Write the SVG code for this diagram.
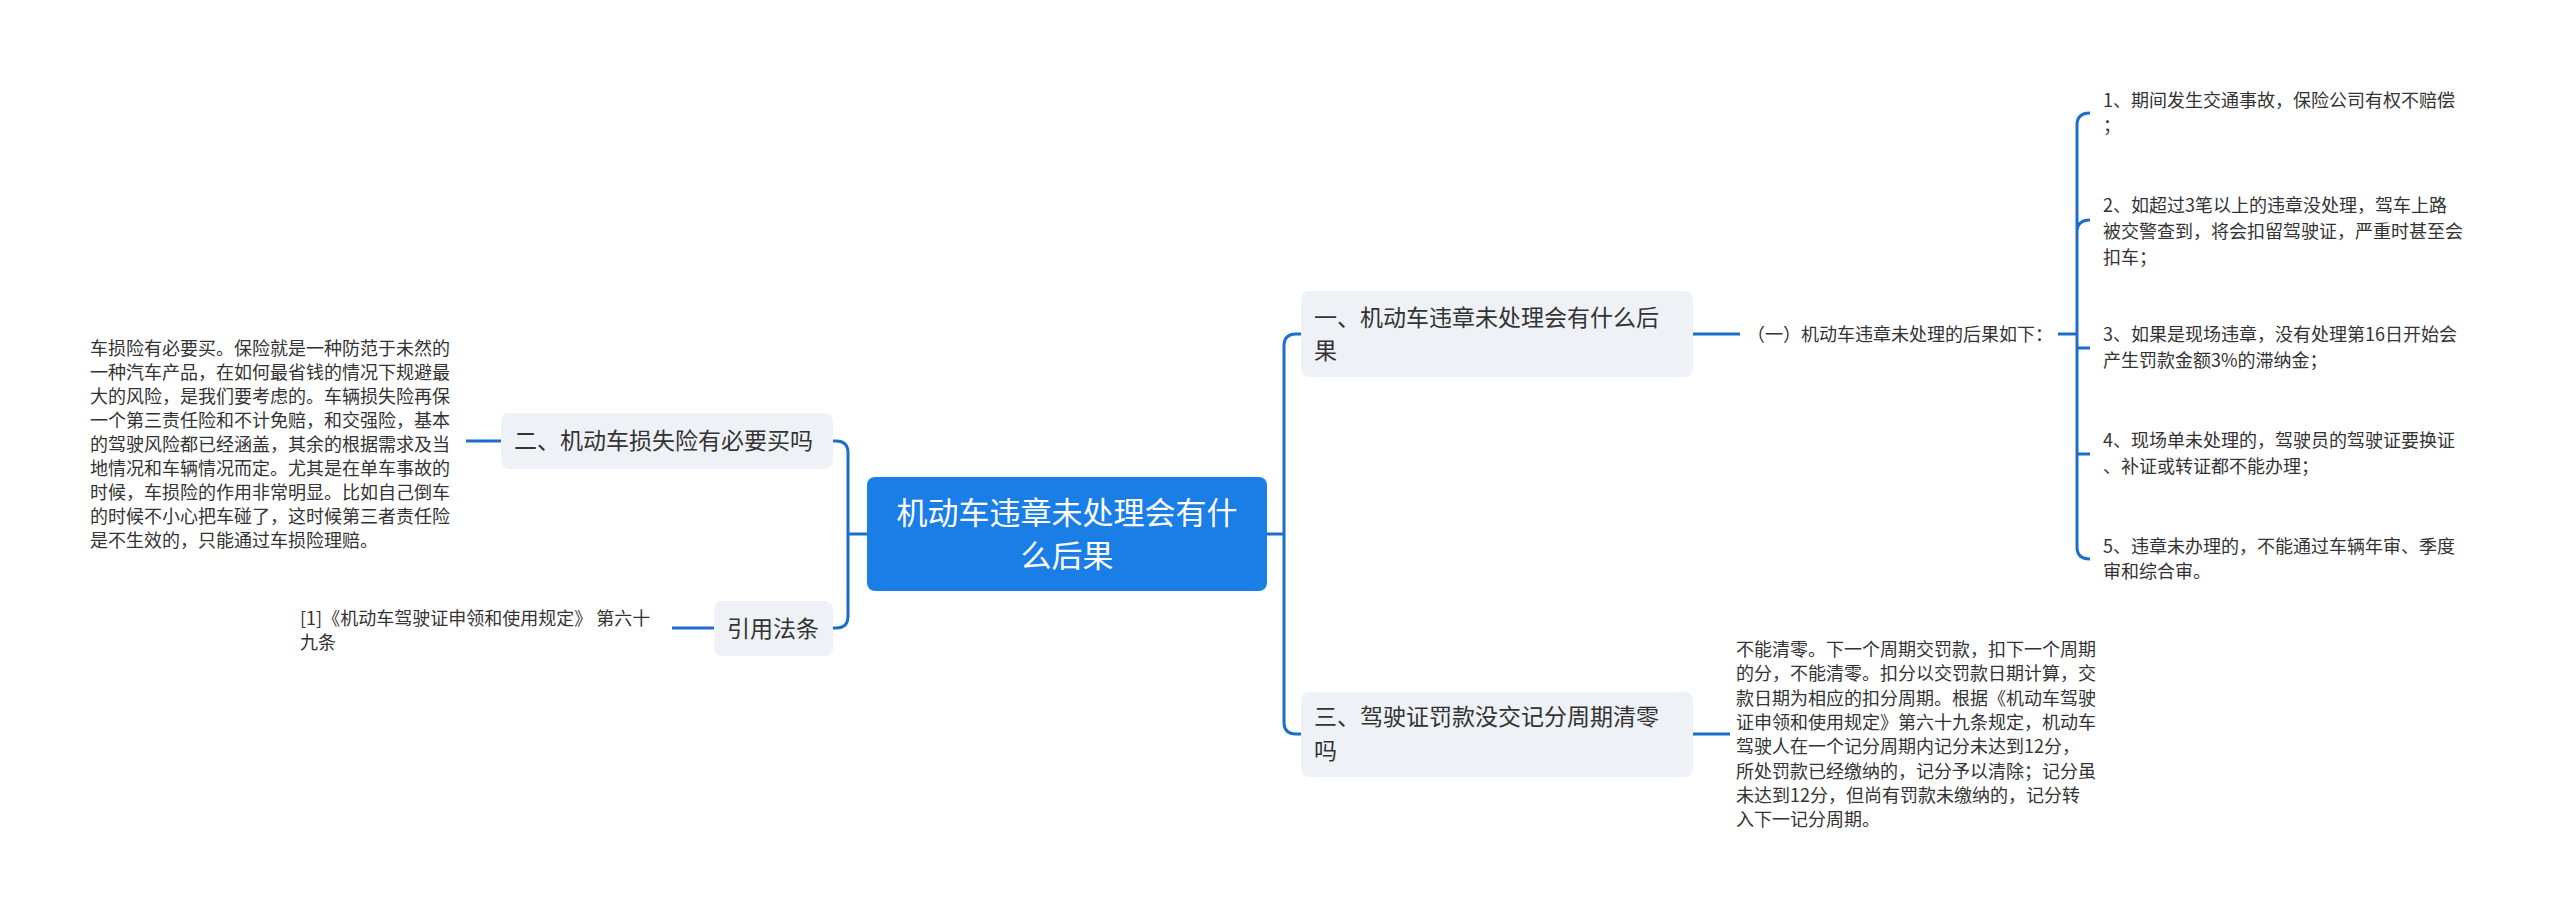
<svg xmlns="http://www.w3.org/2000/svg" width="2560" height="917" viewBox="0 0 2560 917">
<style>
text{font-family:"Noto Sans CJK SC","Liberation Sans",sans-serif;fill:#333}
.t{font-size:18px}
.n{font-size:23px}
.box{fill:#eef1f5}
.c{fill:none;stroke:#1c6fc9;stroke-width:3}
</style>
<rect width="2560" height="917" fill="#fff"/>
<g id="connectors">
<path class="c" d="M1267 534 H1284 M1301 334 H1296 Q1284 334 1284 346 V722 Q1284 734 1296 734 H1301"/>
<path class="c" d="M867 534 H848 M833 441 H836 Q848 441 848 453 V616 Q848 628 836 628 H833"/>
<path class="c" d="M501 441 H466 M714 628 H672"/>
<path class="c" d="M1693 334 H1740 M1693 734 H1730"/>
<path class="c" d="M2058 334 H2077 M2090 113 Q2077 113 2077 125 V547 Q2077 559 2090 559 M2077 232 Q2077 220 2090 220 M2077 232 Q2077 220 2077 232 M2077 348 Q2077 348 2090 348 M2077 454 Q2077 454 2090 454"/>
</g>
<g id="root">
<rect x="867" y="477" width="400" height="114" rx="8" fill="#1a7ee6"/>
<text x="1067" y="524" text-anchor="middle" style="font-size:31px;fill:#fff">机动车违章未处理会有什</text>
<text x="1067" y="567" text-anchor="middle" style="font-size:31px;fill:#fff">么后果</text>
</g>
<g id="n1">
<rect class="box" x="1301" y="291" width="392" height="86" rx="8"/>
<text class="n" x="1314" y="326">一、机动车违章未处理会有什么后</text>
<text class="n" x="1314" y="359">果</text>
</g>
<g id="n1a"><text class="t" x="1747" y="341">（一）机动车违章未处理的后果如下：</text></g>
<g id="items" class="t">
<text class="t" x="2103" y="107">1、期间发生交通事故，保险公司有权不赔偿</text>
<text class="t" x="2103" y="132">；</text>
<text class="t" x="2103" y="212">2、如超过3笔以上的违章没处理，驾车上路</text>
<text class="t" x="2103" y="238">被交警查到，将会扣留驾驶证，严重时甚至会</text>
<text class="t" x="2103" y="264">扣车；</text>
<text class="t" x="2103" y="341">3、如果是现场违章，没有处理第16日开始会</text>
<text class="t" x="2103" y="367">产生罚款金额3%的滞纳金；</text>
<text class="t" x="2103" y="447">4、现场单未处理的，驾驶员的驾驶证要换证</text>
<text class="t" x="2103" y="473">、补证或转证都不能办理；</text>
<text class="t" x="2103" y="553">5、违章未办理的，不能通过车辆年审、季度</text>
<text class="t" x="2103" y="578">审和综合审。</text>
</g>
<g id="n3">
<rect class="box" x="1301" y="692" width="392" height="85" rx="8"/>
<text class="n" x="1314" y="725">三、驾驶证罚款没交记分周期清零</text>
<text class="n" x="1314" y="759">吗</text>
</g>
<g id="n3a">
<text class="t" x="1736" y="656">不能清零。下一个周期交罚款，扣下一个周期</text>
<text class="t" x="1736" y="680">的分，不能清零。扣分以交罚款日期计算，交</text>
<text class="t" x="1736" y="705">款日期为相应的扣分周期。根据《机动车驾驶</text>
<text class="t" x="1736" y="729">证申领和使用规定》第六十九条规定，机动车</text>
<text class="t" x="1736" y="753">驾驶人在一个记分周期内记分未达到12分，</text>
<text class="t" x="1736" y="778">所处罚款已经缴纳的，记分予以清除；记分虽</text>
<text class="t" x="1736" y="802">未达到12分，但尚有罚款未缴纳的，记分转</text>
<text class="t" x="1736" y="826">入下一记分周期。</text>
</g>
<g id="n2">
<rect class="box" x="501" y="413" width="332" height="56" rx="8"/>
<text class="n" x="514" y="449">二、机动车损失险有必要买吗</text>
</g>
<g id="n2a">
<text class="t" x="90" y="355">车损险有必要买。保险就是一种防范于未然的</text>
<text class="t" x="90" y="379">一种汽车产品，在如何最省钱的情况下规避最</text>
<text class="t" x="90" y="403">大的风险，是我们要考虑的。车辆损失险再保</text>
<text class="t" x="90" y="427">一个第三责任险和不计免赔，和交强险，基本</text>
<text class="t" x="90" y="451">的驾驶风险都已经涵盖，其余的根据需求及当</text>
<text class="t" x="90" y="475">地情况和车辆情况而定。尤其是在单车事故的</text>
<text class="t" x="90" y="499">时候，车损险的作用非常明显。比如自己倒车</text>
<text class="t" x="90" y="523">的时候不小心把车碰了，这时候第三者责任险</text>
<text class="t" x="90" y="547">是不生效的，只能通过车损险理赔。</text>
</g>
<g id="cite">
<rect class="box" x="714" y="601" width="119" height="55" rx="8"/>
<text class="n" x="727" y="637">引用法条</text>
</g>
<g id="cite-a">
<text class="t" x="300" y="625">[1]《机动车驾驶证申领和使用规定》 第六十</text>
<text class="t" x="300" y="649">九条</text>
</g>
</svg>
